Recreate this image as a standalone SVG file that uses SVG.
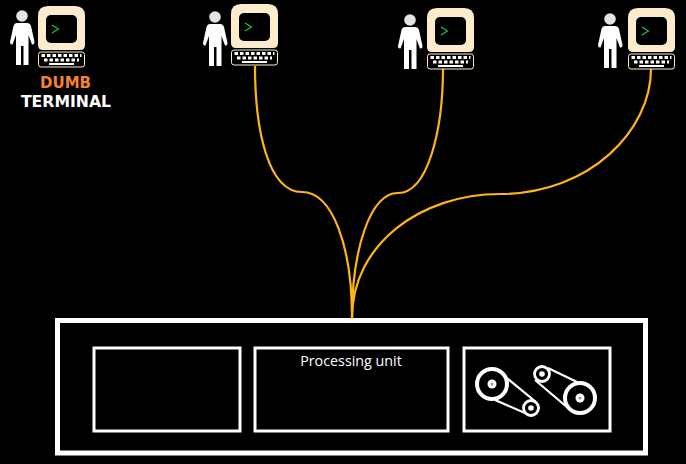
<svg xmlns="http://www.w3.org/2000/svg" xmlns:xlink="http://www.w3.org/1999/xlink" width="686" height="464" viewBox="0 0 686 464">
<style>
.wire{fill:none;stroke:#ffb515;stroke-width:2.200}
.box{fill:none;stroke:#fff;stroke-width:3}
.pul{fill:none;stroke:#fff}
.belt{stroke:#fff;stroke-width:2.200;fill:none}
.lab{font-family:"DejaVu Sans",sans-serif;font-weight:700;text-anchor:middle}
</style>
<defs>
<g id="person">
<circle cx="22" cy="16" r="5.800" fill="#e4e4e4"/>
<path d="M17 23H27Q30 23 31 26L34.500 42Q34.500 45 32 44.500L28.500 35V65H23.500V46H21V65H16V35L12.500 44.500Q10 45 10 42L13.500 26Q14.500 23 17 23Z" fill="#fff"/>
</g>
<g id="term">
<path d="M48 6H75Q85 6 85 16V45Q85 50 80 50H43Q38 50 38 45V16Q38 6 48 6Z" fill="#fdeccb"/>
<rect x="46" y="15" width="31" height="28" rx="5" fill="#000"/>
<path d="M52 25L58.500 29L52 33" fill="none" stroke="#1fc94a" stroke-width="1.100"/>
<rect x="38.500" y="52" width="46" height="15" rx="2.500" fill="#000" stroke="#fdeccb"/>
<path d="M41.500 55.500H81.500" stroke="#fff" stroke-width="3" stroke-dasharray="3.500 2" fill="none"/>
<path d="M44 60H79" stroke="#fff" stroke-width="3" stroke-dasharray="3.500 2" fill="none"/>
<path d="M49 64H74" stroke="#fff" stroke-width="2" fill="none"/>
</g>
</defs>
<rect width="686" height="464" fill="#000"/>
<g id="connectors">
<path class="wire" d="M255 66C255 130 268 192 302 192C332 192 352 245 352 318"/>
<path class="wire" d="M443 68C443 130 428 193 398 193C370 193 352 250 352 318"/>
<path class="wire" d="M651 69C651 130 590 194 500 194C420 194 352 245 352 318"/>
</g>
<g id="terminal-1"><use href="#person"/><use href="#term"/>
<text class="lab" x="65.500" y="88" font-size="15" fill="#f58232">DUMB</text>
<text class="lab" x="66" y="107" font-size="15.700" fill="#fff">TERMINAL</text></g>
<g id="terminal-2"><use href="#person" x="193" y="1"/><use href="#term" x="193" y="-2"/></g>
<g id="terminal-3"><use href="#person" x="388" y="4"/><use href="#term" x="389" y="2"/></g>
<g id="terminal-4"><use href="#person" x="588" y="3"/><use href="#term" x="590" y="2"/></g>
<g id="mainframe">
<rect x="57.500" y="320.500" width="588" height="132.500" fill="none" stroke="#fff" stroke-width="5"/>
</g>
<g id="box-left"><rect class="box" x="94" y="348" width="146" height="83"/></g>
<g id="box-processing"><rect class="box" x="255" y="348" width="193" height="83"/>
<text x="351" y="366" fill="#fff" font-family="'Open Sans',sans-serif" font-size="14.300" text-anchor="middle">Processing unit</text></g>
<g id="box-pulleys"><rect class="box" x="464" y="348" width="146" height="83"/>
<circle class="pul" cx="492" cy="384" r="15" stroke-width="4"/>
<circle cx="492" cy="384" r="4.500" fill="#fff"/><circle cx="492" cy="384" r="1.500" fill="#999"/>
<circle class="pul" cx="531" cy="408" r="7.500" stroke-width="2.800"/>
<circle cx="531" cy="408" r="2.800" fill="#fff"/>
<path class="belt" d="M505 376.500L536 402M495 400L525 413"/>
<circle class="pul" cx="542" cy="374" r="7.500" stroke-width="2.800"/>
<circle cx="542" cy="374" r="2.800" fill="#fff"/>
<circle class="pul" cx="580" cy="398" r="15" stroke-width="4"/>
<circle cx="580" cy="398" r="4.500" fill="#fff"/><circle cx="580" cy="398" r="1.500" fill="#999"/>
<path class="belt" d="M548 368L577 382M535 380L568 408"/>
</g>
</svg>
